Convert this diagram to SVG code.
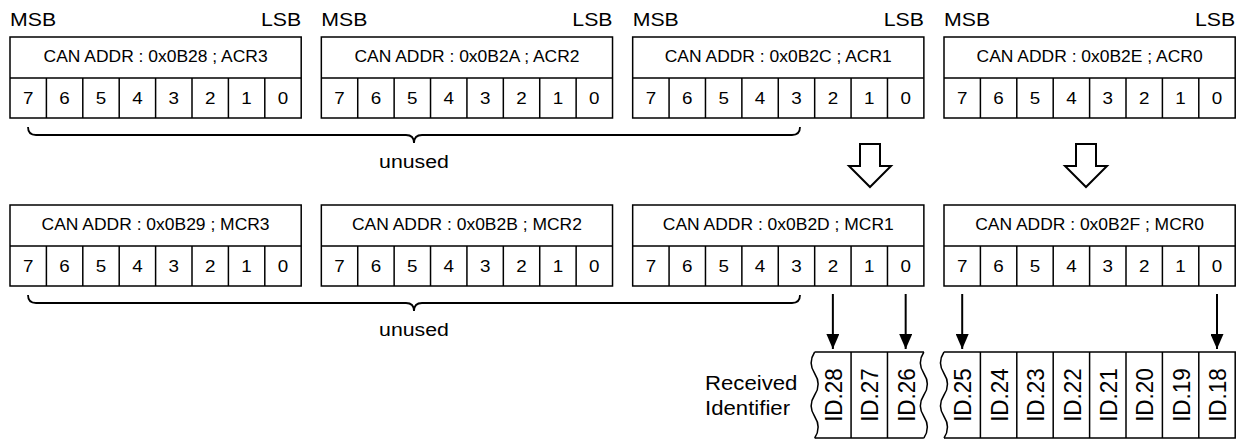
<svg xmlns="http://www.w3.org/2000/svg" xmlns:xlink="http://www.w3.org/1999/xlink" width="1239" height="443" viewBox="0 0 1239 443">
<style>
text{font-family:"Liberation Sans",Arial,sans-serif;fill:#000}
.lbl{font-size:19px}
.hd{font-size:15.6px;text-anchor:middle}
.dg{font-size:16.8px;text-anchor:middle}
.id{font-size:22.5px;text-anchor:middle}
.rc{font-size:19.8px}
.box{fill:#fff;stroke:#000;stroke-width:1.5}
.ln{fill:none;stroke:#000;stroke-width:1.5}
.ar{fill:none;stroke:#000;stroke-width:2}
.br{fill:none;stroke:#000;stroke-width:1.8}
.ha{fill:#fff;stroke:#000;stroke-width:2;stroke-linejoin:miter}
</style>
<defs>
<marker id="ah" viewBox="0 0 15 13" refX="15" refY="6.5" markerWidth="15" markerHeight="13" markerUnits="userSpaceOnUse" orient="auto">
<path d="M0,0 L15,6.5 L0,13 Z" fill="#000"/>
</marker>
<g id="blk">
<rect x="0" y="0" width="291.2" height="81" class="box"/>
<path d="M0 41H291.2M36.4 41V81M72.8 41V81M109.2 41V81M145.6 41V81M182 41V81M218.4 41V81M254.8 41V81" class="ln"/>
<text class="dg" transform="translate(18.2,67) scale(1.12,1)">7</text>
<text class="dg" transform="translate(54.6,67) scale(1.12,1)">6</text>
<text class="dg" transform="translate(91,67) scale(1.12,1)">5</text>
<text class="dg" transform="translate(127.4,67) scale(1.12,1)">4</text>
<text class="dg" transform="translate(163.8,67) scale(1.12,1)">3</text>
<text class="dg" transform="translate(200.2,67) scale(1.12,1)">2</text>
<text class="dg" transform="translate(236.6,67) scale(1.12,1)">1</text>
<text class="dg" transform="translate(273,67) scale(1.12,1)">0</text>
</g>
</defs>
<rect width="1239" height="443" fill="#fff"/>

<g id="acr3">
<text class="lbl" transform="translate(10,25.5) scale(1.12,1)">MSB</text>
<text class="lbl" text-anchor="end" transform="translate(301.2,25.5) scale(1.12,1)">LSB</text>
<use xlink:href="#blk" x="10" y="37"/>
<text class="hd" transform="translate(155.6,62) scale(1.12,1)">CAN ADDR : 0x0B28 ; ACR3</text>
</g>
<g id="acr2">
<text class="lbl" transform="translate(321.33,25.5) scale(1.12,1)">MSB</text>
<text class="lbl" text-anchor="end" transform="translate(612.53,25.5) scale(1.12,1)">LSB</text>
<use xlink:href="#blk" x="321.33" y="37"/>
<text class="hd" transform="translate(466.93,62) scale(1.12,1)">CAN ADDR : 0x0B2A ; ACR2</text>
</g>
<g id="acr1">
<text class="lbl" transform="translate(632.67,25.5) scale(1.12,1)">MSB</text>
<text class="lbl" text-anchor="end" transform="translate(923.87,25.5) scale(1.12,1)">LSB</text>
<use xlink:href="#blk" x="632.67" y="37"/>
<text class="hd" transform="translate(778.27,62) scale(1.12,1)">CAN ADDR : 0x0B2C ; ACR1</text>
</g>
<g id="acr0">
<text class="lbl" transform="translate(944,25.5) scale(1.12,1)">MSB</text>
<text class="lbl" text-anchor="end" transform="translate(1235.2,25.5) scale(1.12,1)">LSB</text>
<use xlink:href="#blk" x="944" y="37"/>
<text class="hd" transform="translate(1089.6,62) scale(1.12,1)">CAN ADDR : 0x0B2E ; ACR0</text>
</g>

<g id="mcr3">
<use xlink:href="#blk" x="10" y="205"/>
<text class="hd" transform="translate(155.6,230) scale(1.12,1)">CAN ADDR : 0x0B29 ; MCR3</text>
</g>
<g id="mcr2">
<use xlink:href="#blk" x="321.33" y="205"/>
<text class="hd" transform="translate(466.93,230) scale(1.12,1)">CAN ADDR : 0x0B2B ; MCR2</text>
</g>
<g id="mcr1">
<use xlink:href="#blk" x="632.67" y="205"/>
<text class="hd" transform="translate(778.27,230) scale(1.12,1)">CAN ADDR : 0x0B2D ; MCR1</text>
</g>
<g id="mcr0">
<use xlink:href="#blk" x="944" y="205"/>
<text class="hd" transform="translate(1089.6,230) scale(1.12,1)">CAN ADDR : 0x0B2F ; MCR0</text>
</g>

<g id="unused1">
<text class="lbl" text-anchor="middle" transform="translate(414,168) scale(1.12,1)">unused</text>
</g>
<g id="unused2">
<text class="lbl" text-anchor="middle" transform="translate(414,336) scale(1.12,1)">unused</text>
</g>

<g id="received-label">
<text class="rc" transform="translate(705,390) scale(1.12,1)">Received</text>
<text class="rc" transform="translate(705,415) scale(1.12,1)">Identifier</text>
</g>

<g id="id-high">
<path class="ln" d="M814.67 352H923.87M814.67 438H923.87M851.07 352V438M887.47 352V438"/>
<path class="ln" d="M814.67 352q-7 10.75 0 21.5t0 21.5t0 21.5t0 21.5"/>
<path class="ln" d="M923.87 352q-7 10.75 0 21.5t0 21.5t0 21.5t0 21.5"/>
<text class="id" transform="translate(842,395) scale(1.1,1) rotate(-90)">ID.28</text>
<text class="id" transform="translate(878.4,395) scale(1.1,1) rotate(-90)">ID.27</text>
<text class="id" transform="translate(914.8,395) scale(1.1,1) rotate(-90)">ID.26</text>
</g>
<g id="id-low">
<path class="ln" d="M944 352H1235.2V438H944M980.4 352V438M1016.8 352V438M1053.2 352V438M1089.6 352V438M1126 352V438M1162.4 352V438M1198.8 352V438"/>
<path class="ln" d="M944 352q-7 10.75 0 21.5t0 21.5t0 21.5t0 21.5"/>
<text class="id" transform="translate(971.3,395) scale(1.1,1) rotate(-90)">ID.25</text>
<text class="id" transform="translate(1007.7,395) scale(1.1,1) rotate(-90)">ID.24</text>
<text class="id" transform="translate(1044.1,395) scale(1.1,1) rotate(-90)">ID.23</text>
<text class="id" transform="translate(1080.5,395) scale(1.1,1) rotate(-90)">ID.22</text>
<text class="id" transform="translate(1116.9,395) scale(1.1,1) rotate(-90)">ID.21</text>
<text class="id" transform="translate(1153.3,395) scale(1.1,1) rotate(-90)">ID.20</text>
<text class="id" transform="translate(1189.7,395) scale(1.1,1) rotate(-90)">ID.19</text>
<text class="id" transform="translate(1226.1,395) scale(1.1,1) rotate(-90)">ID.18</text>
</g>

<g id="connectors">
<path class="br" d="M28,127 Q28,135 36,135 H406 Q414,135 414,143 Q414,135 422,135 H792 Q800,135 800,127"/>
<path class="br" d="M28,295 Q28,303 36,303 H406 Q414,303 414,311 Q414,303 422,303 H792 Q800,303 800,295"/>
<path class="ha" d="M860,144H880V166H891L870,187L849,166H860Z"/>
<path class="ha" d="M1076,144H1096V166H1107L1086,187L1065,166H1076Z"/>
<path class="ar" d="M832.87,294V349" marker-end="url(#ah)"/>
<path class="ar" d="M905.67,294V349" marker-end="url(#ah)"/>
<path class="ar" d="M962.2,294V349" marker-end="url(#ah)"/>
<path class="ar" d="M1217,294V349" marker-end="url(#ah)"/>
</g>
</svg>
